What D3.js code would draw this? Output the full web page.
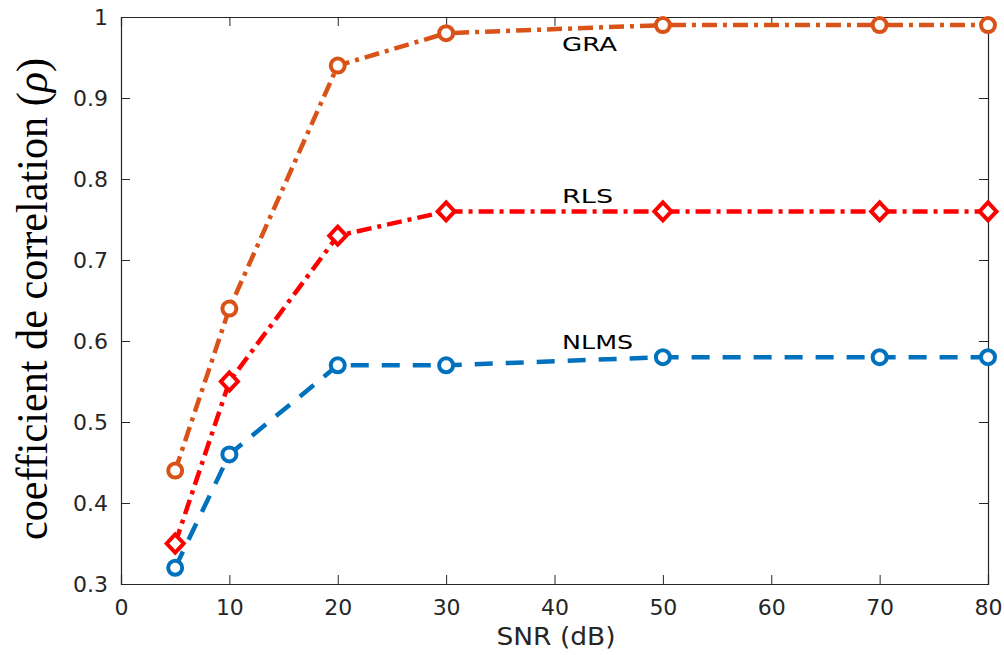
<!DOCTYPE html>
<html>
<head>
<meta charset="utf-8">
<script src="https://cdn.jsdelivr.net/npm/d3@7"></script>
<style>
  body { margin: 0; background: #fff; }
</style>
</head>
<body>
<div id="chart"></div>
<script>
// data
var snr = [5, 10, 20, 30, 50, 70, 80];
var gra = [0.44, 0.64, 0.94, 0.98, 0.99, 0.99, 0.99];
var rls = [0.35, 0.55, 0.73, 0.76, 0.76, 0.76, 0.76];
var nlms = [0.32, 0.46, 0.57, 0.57, 0.58, 0.58, 0.58];
var xTicks = [0, 10, 20, 30, 40, 50, 60, 70, 80];
var yTicks = [0.3, 0.4, 0.5, 0.6, 0.7, 0.8, 0.9, 1];
var seriesNames = ["GRA", "RLS", "NLMS"];
var labelPos = [[40.7, 0.967], [40.7, 0.779], [40.7, 0.599]];

var svgWidth = 1004;
var svgHeight = 655;
var margin = { top: 17, right: 16, bottom: 71, left: 121 };
var width = svgWidth - margin.left - margin.right;
var height = svgHeight - margin.top - margin.bottom;

var svg = d3.select("#chart").append("svg")
    .attr("width", svgWidth)
    .attr("height", svgHeight);
var chart = svg.append("g")
    .attr("transform", "translate(" + margin.left + "," + margin.top + ")");

var x = d3.scaleLinear().domain([0, 80]).range([0, width]);
var y = d3.scaleLinear().domain([0.3, 1]).range([height, 0]);

var axisColor = "#262626";
var tickLen = 9;

// axes, ticks pointing inward like matlab
var axBottom = chart.append("g")
    .attr("transform", "translate(0," + height + ")")
    .call(d3.axisBottom(x).tickValues(xTicks).tickSize(-tickLen).tickPadding(15).tickFormat(d3.format("d")));
var axLeft = chart.append("g")
    .call(d3.axisLeft(y).tickValues(yTicks).tickSize(-tickLen).tickPadding(13).tickFormat(function (d) { return d === 1 ? "1" : d3.format(".1f")(d); }));
var axTop = chart.append("g")
    .call(d3.axisTop(x).tickValues(xTicks).tickSize(-tickLen).tickFormat(""));
var axRight = chart.append("g")
    .attr("transform", "translate(" + width + ",0)")
    .call(d3.axisRight(y).tickValues(yTicks).tickSize(-tickLen).tickFormat(""));

[axBottom, axLeft, axTop, axRight].forEach(function (g) {
    g.attr("font-size", null).attr("font-family", null);
    g.selectAll("path").attr("stroke", axisColor).attr("stroke-width", 1.2);
    g.selectAll("line").attr("stroke", axisColor).attr("stroke-width", 1);
    g.selectAll("text")
        .style("font-family", "'DejaVu Sans', sans-serif")
        .style("font-size", "22px")
        .style("fill", axisColor);
});

// lines
var lineGen = d3.line()
    .x(function (d) { return x(d[0]); })
    .y(function (d) { return y(d[1]); });

var series = [
    { name: "GRA", vals: gra, color: "#D95319", dash: "15,6,4,6", marker: "circle" },
    { name: "RLS", vals: rls, color: "#FF0000", dash: "15,6,4,6", marker: "diamond" },
    { name: "NLMS", vals: nlms, color: "#0072BD", dash: "18,13", marker: "circle" }
];

series.forEach(function (s) {
    var pts = snr.map(function (v, i) { return [v, s.vals[i]]; });
    chart.append("path")
        .datum(pts)
        .attr("fill", "none")
        .attr("stroke", s.color)
        .attr("stroke-width", 4.5)
        .attr("stroke-dasharray", s.dash)
        .attr("d", lineGen);

    if (s.marker === "circle") {
        chart.selectAll(null)
            .data(pts)
            .enter()
            .append("circle")
            .attr("cx", function (d) { return x(d[0]); })
            .attr("cy", function (d) { return y(d[1]); })
            .attr("r", 7)
            .attr("fill", "#fff")
            .attr("stroke", s.color)
            .attr("stroke-width", 4);
    } else {
        chart.selectAll(null)
            .data(pts)
            .enter()
            .append("path")
            .attr("transform", function (d) { return "translate(" + x(d[0]) + "," + y(d[1]) + ")"; })
            .attr("d", "M0,-9L8.5,0L0,9L-8.5,0Z")
            .attr("fill", "#fff")
            .attr("stroke", s.color)
            .attr("stroke-width", 4);
    }
});

// series labels
var labelWidths = [55, 51, 71];
chart.selectAll(".slabel")
    .data(seriesNames)
    .enter()
    .append("text")
    .attr("class", "slabel")
    .attr("x", function (d, i) { return x(labelPos[i][0]); })
    .attr("y", function (d, i) { return y(labelPos[i][1]); })
    .attr("dy", "0.36em")
    .attr("textLength", function (d, i) { return labelWidths[i]; })
    .attr("lengthAdjust", "spacingAndGlyphs")
    .style("font-family", "'DejaVu Sans', sans-serif")
    .style("font-size", "20px")
    .style("fill", "#000")
    .text(function (d) { return d; });

// x axis label
svg.append("text")
    .attr("x", 556)
    .attr("y", 645)
    .attr("text-anchor", "middle")
    .attr("textLength", 119)
    .attr("lengthAdjust", "spacingAndGlyphs")
    .style("font-family", "'DejaVu Sans', sans-serif")
    .style("font-size", "25px")
    .style("fill", "#262626")
    .text("SNR (dB)");

// y axis label (the figure is a bit stretched sideways, so scale the glyph height)
var yl = svg.append("text")
    .attr("transform", "translate(47,299) rotate(-90) scale(1,1.25)")
    .attr("text-anchor", "middle")
    .attr("textLength", 482)
    .attr("lengthAdjust", "spacingAndGlyphs")
    .style("font-family", "'Liberation Serif', 'Times New Roman', serif")
    .style("font-size", "35px")
    .style("fill", "#000");
yl.append("tspan").text("coefficient de correlation (");
yl.append("tspan").style("font-style", "italic").text("ρ");
yl.append("tspan").text(")");
</script>
</body>
</html>
